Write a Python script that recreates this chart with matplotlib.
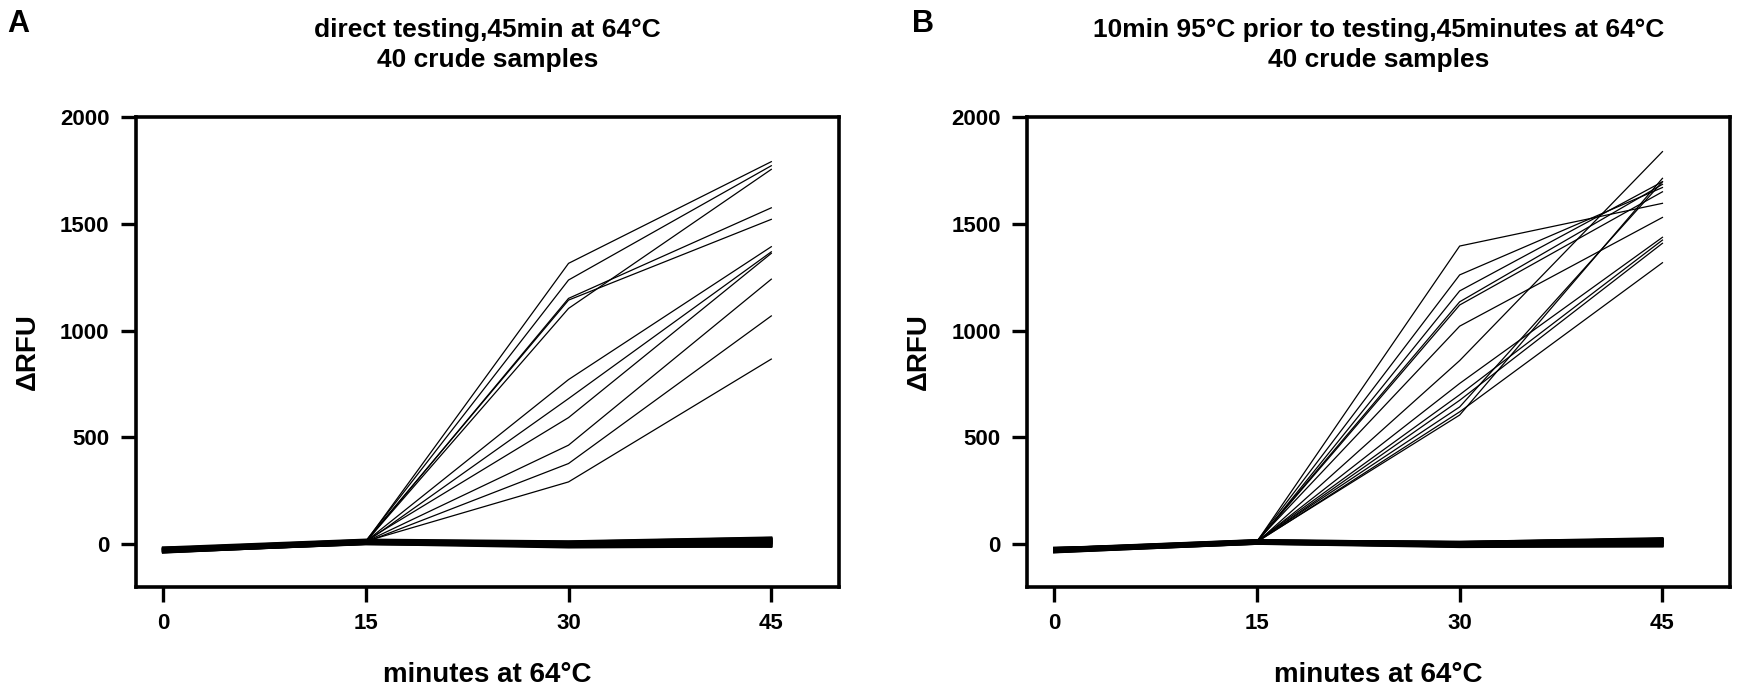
#importing all modules
import matplotlib.pyplot as plt

#time points (minutes at 64 C)
minutes = [0, 15, 30, 45]
xtick_labels = ['0', '15', '30', '45']
ytick_vals = [0, 500, 1000, 1500, 2000]

#panel A positive samples (value at 0,15,30,45 min)
a_pos = [
    [-25, 12, 1315, 1791],
    [-22, 15, 1237, 1772],
    [-28, 10, 1151, 1575],
    [-24, 14, 1143, 1521],
    [-26, 11, 1104, 1755],
    [-30, 13, 771, 1393],
    [-27, 9, 682, 1369],
    [-23, 16, 593, 1362],
    [-29, 12, 464, 1241],
    [-25, 10, 378, 1069],
    [-21, 14, 292, 867],
]

#panel A negative samples
a_neg = [
    [-38, 2, -8, -12], [-35, 5, -5, -5], [-33, 8, -2, 0], [-31, 6, 0, 3],
    [-30, 10, 2, 6], [-28, 12, 4, 10], [-27, 9, 5, 12], [-26, 14, 6, 15],
    [-25, 11, 8, 18], [-24, 15, 3, 20], [-23, 13, 7, 22], [-22, 16, 9, 25],
    [-21, 18, 10, 28], [-20, 17, 12, 30], [-19, 19, 6, 8], [-18, 20, 11, 14],
    [-17, 7, -10, -8], [-16, 4, -12, -6], [-32, 3, -6, 2], [-34, 0, -4, 4],
    [-36, 6, 1, 9], [-29, 8, 3, 11], [-27, 10, 5, 16], [-25, 12, 6, 19],
    [-23, 14, 8, 24], [-21, 16, 10, 26], [-37, 1, -15, -10], [-39, 4, -3, 1],
    [-15, 22, 14, 32],
]

#panel B positive samples
b_pos = [
    [-25, 12, 1396, 1596],
    [-22, 14, 1261, 1670],
    [-27, 10, 1186, 1697],
    [-24, 13, 1135, 1685],
    [-26, 11, 1120, 1650],
    [-23, 15, 1021, 1530],
    [-28, 9, 860, 1838],
    [-25, 12, 753, 1437],
    [-21, 14, 700, 1424],
    [-29, 11, 674, 1409],
    [-24, 13, 643, 1697],
    [-26, 10, 620, 1318],
    [-22, 12, 605, 1713],
]

#panel B negative samples
b_neg = [
    [-38, 3, -10, -10], [-35, 6, -6, -4], [-33, 7, -3, 1], [-31, 9, 0, 4],
    [-30, 11, 2, 7], [-28, 12, 4, 9], [-27, 10, 5, 12], [-26, 13, 6, 14],
    [-25, 14, 8, 17], [-24, 15, 3, 20], [-23, 12, 7, 23], [-22, 16, 9, 26],
    [-21, 17, 11, 29], [-20, 18, 12, 24], [-19, 19, 6, 6], [-18, 20, 10, 13],
    [-17, 8, -8, -7], [-16, 5, -11, -5], [-32, 4, -5, 2], [-34, 2, -4, 5],
    [-36, 6, 1, 8], [-29, 9, 3, 11], [-27, 11, 5, 15], [-25, 13, 6, 18],
    [-23, 15, 8, 22], [-21, 17, 10, 25], [-37, 2, -13, -9],
]

titles = ['direct testing,45min at 64°C\n40 crude samples',
          '10min 95°C prior to testing,45minutes at 64°C\n40 crude samples']
letters = ['A', 'B']

narrow = ['Liberation Sans Narrow', 'Liberation Sans', 'DejaVu Sans']
plt.rcParams['font.family'] = ['Liberation Sans', 'DejaVu Sans']
plt.rcParams['font.weight'] = 'bold'

fig = plt.figure(figsize=(17.47, 6.99), dpi=100)
ax_a = fig.add_axes([0.0778, 0.1602, 0.4024, 0.6724])
ax_b = fig.add_axes([0.5879, 0.1602, 0.4024, 0.6724])

for ax, pos, neg, title, letter in [(ax_a, a_pos, a_neg, titles[0], letters[0]),
                                     (ax_b, b_pos, b_neg, titles[1], letters[1])]:
    #negative samples make the thick band near zero
    for row in neg:
        ax.plot(minutes, row, color='black', lw=1.5)
    for row in pos:
        ax.plot(minutes, row, color='black', lw=0.9)

    ax.set_xlim(-2, 50)
    ax.set_ylim(-200, 2000)
    ax.set_xticks(minutes)
    ax.set_xticklabels(xtick_labels)
    ax.set_yticks(ytick_vals)
    ax.tick_params(axis='both', direction='out', length=11, width=2.4,
                   labelsize=16, pad=8)
    for lab in ax.get_xticklabels() + ax.get_yticklabels():
        lab.set_fontweight('bold')
    for sp in ax.spines.values():
        sp.set_linewidth(2.6)

    ax.set_xlabel('minutes at 64°C', fontsize=20, fontweight='bold', labelpad=20)
    ax.set_ylabel('ΔRFU', fontsize=20, fontweight='bold', labelpad=14)
    ax.set_title(title, fontsize=19, fontweight='bold', family=narrow,
                 pad=36, linespacing=1.3)

#panel letters
fig.text(0.004, 0.965, 'A', fontsize=22, fontweight='bold', va='center')
fig.text(0.522, 0.965, 'B', fontsize=22, fontweight='bold', va='center')

plt.savefig('out.png', dpi=100)
